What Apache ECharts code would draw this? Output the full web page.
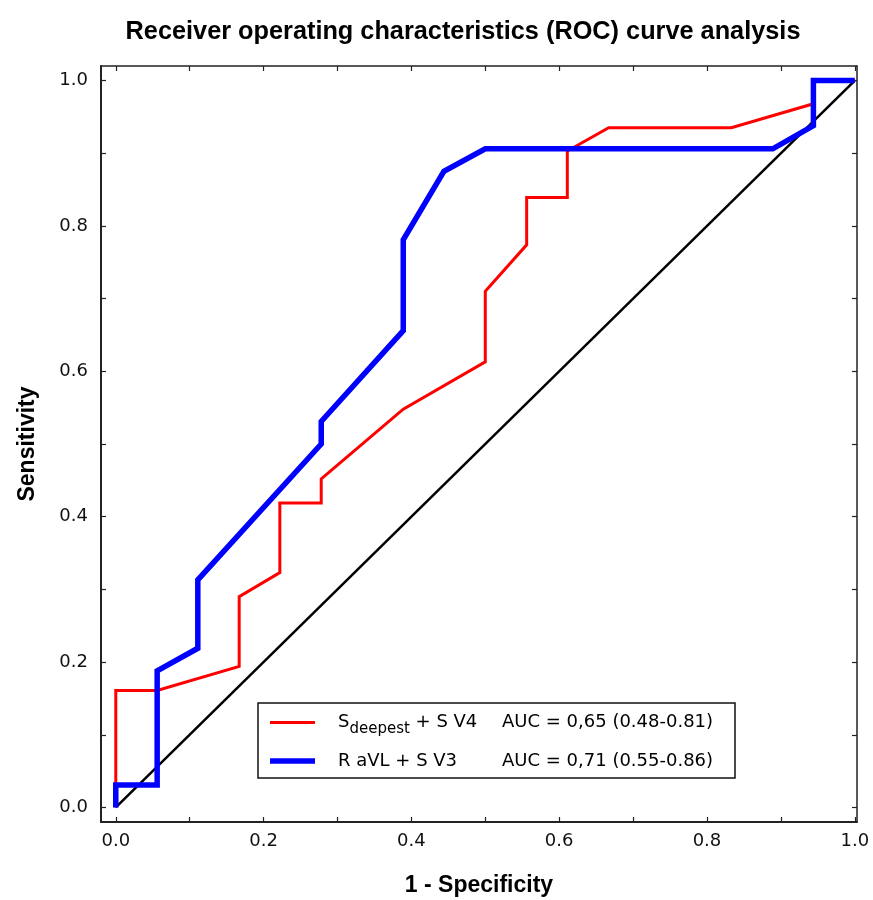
<!DOCTYPE html>
<html><head><meta charset="utf-8">
<script src="https://cdn.jsdelivr.net/npm/echarts@6/dist/echarts.min.js"></script>
<style>html,body{margin:0;padding:0;background:#fff}#c{width:873px;height:900px}</style>
</head><body><div id="c"></div>
<script>
// ---- data ----
const titleText = 'Receiver operating characteristics (ROC) curve analysis';
const xAxisName = '1 - Specificity';
const yAxisName = 'Sensitivity';
const tickValues = [0, 0.1, 0.2, 0.3, 0.4, 0.5, 0.6, 0.7, 0.8, 0.9, 1.0];
const labelValues = [0, 0.2, 0.4, 0.6, 0.8, 1.0];

const redName = 'Sdeepest + S V4';
const redAuc = 'AUC = 0,65 (0.48-0.81)';
const redFpr = [0, 0, 0.056, 0.167, 0.167, 0.222, 0.222, 0.278, 0.278, 0.389, 0.5, 0.5, 0.556, 0.556, 0.611, 0.611, 0.667, 0.833, 0.944, 0.944, 1.0];
const redTpr = [0, 0.161, 0.161, 0.194, 0.290, 0.323, 0.419, 0.419, 0.452, 0.548, 0.613, 0.710, 0.774, 0.839, 0.839, 0.903, 0.935, 0.935, 0.968, 1.0, 1.0];

const blueName = 'R aVL + S V3';
const blueAuc = 'AUC = 0,71 (0.55-0.86)';
const blueFpr = [0, 0, 0.056, 0.056, 0.111, 0.111, 0.278, 0.278, 0.389, 0.389, 0.444, 0.5, 0.889, 0.944, 0.944, 1.0];
const blueTpr = [0, 0.031, 0.031, 0.188, 0.219, 0.313, 0.5, 0.531, 0.656, 0.781, 0.875, 0.906, 0.906, 0.938, 1.0, 1.0];

const diagFpr = [0, 1];
const diagTpr = [0, 1];

// ---- helpers ----
const pairs = (xs, ys) => xs.map((x, i) => [x, ys[i]]);
const cv = document.createElement('canvas').getContext('2d');
function tw(t, f) { cv.font = f; return cv.measureText(t).width; }
const mainFont = '"DejaVu Sans", sans-serif';
const boldFont = '"Liberation Sans", Arial, sans-serif';
const mainSize = 18, subSize = 15;
const col1 = 164;
const wS = tw('S', mainSize + 'px ' + mainFont);
const wDeep = tw('deepest', subSize + 'px ' + mainFont);

const chart = echarts.init(document.getElementById('c'), null, {renderer: 'canvas'});

const axisCommon = {
  type: 'value',
  axisLine: {show: true, onZero: false, lineStyle: {color: '#222', width: 2}},
  axisTick: {show: true, inside: true, length: 5, customValues: tickValues, lineStyle: {color: '#222', width: 1.2}},
  splitLine: {show: false},
  minorTick: {show: false}
};
const labelCommon = {
  customValues: labelValues,
  formatter: v => v.toFixed(1),
  color: '#111', fontFamily: mainFont, fontSize: 18
};

const option = {
  animation: false,
  backgroundColor: '#fff',
  title: {
    text: titleText, left: 458, top: 15, textAlign: 'center',
    textStyle: {fontFamily: boldFont, fontWeight: 'bold', fontSize: 25.3, color: '#000'}
  },
  grid: {left: 101, top: 66, right: 16, bottom: 78, containLabel: false, outerBoundsMode: 'none'},
  xAxis: [
    Object.assign({}, axisCommon, {
      position: 'bottom', min: -0.02, max: 1.003,
      name: xAxisName, nameLocation: 'middle', nameGap: 52,
      nameTextStyle: {fontFamily: boldFont, fontWeight: 'bold', fontSize: 23, color: '#000'},
      axisLabel: Object.assign({}, labelCommon, {margin: 10})
    }),
    Object.assign({}, axisCommon, {
      position: 'top', min: -0.02, max: 1.003,
      axisLine: {show: true, onZero: false, lineStyle: {color: '#222', width: 1.5}},
      axisLabel: {show: false}
    })
  ],
  yAxis: [
    Object.assign({}, axisCommon, {
      position: 'left', min: -0.02, max: 1.02,
      name: yAxisName, nameLocation: 'middle', nameGap: 62, nameRotate: 90,
      nameTextStyle: {fontFamily: boldFont, fontWeight: 'bold', fontSize: 23, color: '#000'},
      axisLabel: Object.assign({}, labelCommon, {margin: 13})
    }),
    Object.assign({}, axisCommon, {
      position: 'right', min: -0.02, max: 1.02,
      axisLine: {show: true, onZero: false, lineStyle: {color: '#222', width: 1.5}},
      axisLabel: {show: false}
    })
  ],
  legend: {
    orient: 'vertical', left: 258, top: 703,
    padding: [5, 11, 6, 12], itemGap: 13,
    itemWidth: 45, itemHeight: 14,
    backgroundColor: '#fff', borderColor: '#111', borderWidth: 1.5, borderRadius: 0,
    data: [
      {name: redName, icon: 'path://M0,0H45V3H0Z', itemStyle: {color: '#ff0000', borderWidth: 0}},
      {name: blueName, icon: 'path://M0,0H45V5.5H0Z', itemStyle: {color: '#0000ff', borderWidth: 0}}
    ],
    formatter: function (name) {
      if (name === redName) {
        return '{sp| }{m|S}{sub|deepest}{r| + S V4}{auc|' + redAuc + '}';
      }
      return '{sp| }{b|' + blueName + '}{auc|' + blueAuc + '}';
    },
    textStyle: {
      color: '#000', fontFamily: mainFont, fontSize: mainSize, lineHeight: 22,
      rich: {
        sp: {width: 18, fontSize: mainSize, fontFamily: mainFont, lineHeight: 22},
        m: {fontSize: mainSize, fontFamily: mainFont, color: '#000', lineHeight: 22},
        sub: {fontSize: subSize, fontFamily: mainFont, color: '#000', lineHeight: 22, padding: [14, 0, 0, 0]},
        r: {fontSize: mainSize, fontFamily: mainFont, color: '#000', lineHeight: 22, width: col1 - wS - wDeep},
        b: {fontSize: mainSize, fontFamily: mainFont, color: '#000', lineHeight: 22, width: col1},
        auc: {fontSize: mainSize, fontFamily: mainFont, color: '#000', lineHeight: 22, width: 222}
      }
    }
  },
  series: [
    {
      name: 'diagonal', type: 'line', data: pairs(diagFpr, diagTpr),
      symbol: 'none', silent: true,
      lineStyle: {color: '#000', width: 2.5}
    },
    {
      name: redName, type: 'line', data: pairs(redFpr, redTpr),
      symbol: 'none', color: '#ff0000',
      lineStyle: {color: '#ff0000', width: 3, join: 'miter'}
    },
    {
      name: blueName, type: 'line', data: pairs(blueFpr, blueTpr),
      symbol: 'none', color: '#0000ff',
      lineStyle: {color: '#0000ff', width: 5.5, join: 'miter'}
    }
  ]
};
chart.setOption(option);
</script>
</body></html>
